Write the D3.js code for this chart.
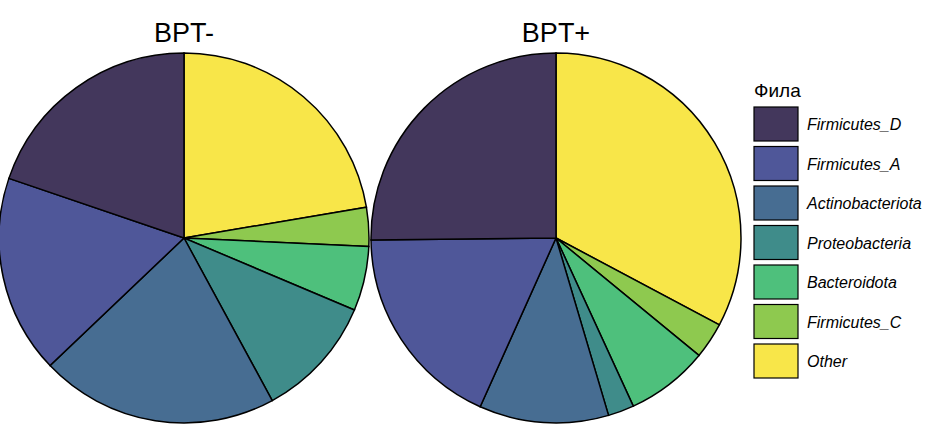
<!DOCTYPE html><html><head><meta charset="utf-8"><script src="https://cdn.jsdelivr.net/npm/d3@7"></script>
<style>body{margin:0;background:#fff}</style></head><body><svg id="c" width="950" height="445"></svg><script>
const categories=["Other","Firmicutes_C","Bacteroidota","Proteobacteria","Actinobacteriota","Firmicutes_A","Firmicutes_D"];
const bptMinus=[80.4,12.2,20.3,38.6,74.9,62.4,71.2];
const bptPlus=[118,11.4,25.9,8.2,40.7,65.2,90.6];
const legendOrder=["Firmicutes_D","Firmicutes_A","Actinobacteriota","Proteobacteria","Bacteroidota","Firmicutes_C","Other"];
const colors=["#f8e649","#8ec94f","#4ec07c","#3f8c8a","#476d92","#4f5799","#43375c"];
const svg=d3.select("#c");
const color=d3.scaleOrdinal(categories,colors);
const pie=d3.pie().sort(null).value(d=>d.v);
const arc=d3.arc().innerRadius(0).outerRadius(185);
[[bptMinus,184,"BPT-"],[bptPlus,556,"BPT+"]].forEach(([vals,cx,t])=>{
 const g=svg.append("g").attr("transform",`translate(${cx},238)`);
 g.selectAll("path").data(pie(vals.map((v,i)=>({k:categories[i],v})))).join("path")
  .attr("d",arc).attr("fill",d=>color(d.data.k)).attr("stroke","#000").attr("stroke-width",1.5);
 svg.append("text").attr("x",cx).attr("y",42).attr("text-anchor","middle").attr("font-family","Liberation Sans, Arial").attr("font-size",27).text(t);
});
svg.append("text").attr("x",754).attr("y",97).attr("font-family","Liberation Sans, Arial").attr("font-size",19).text("Фила");
const lg=svg.append("g");
legendOrder.forEach((k,i)=>{
 const y=107+i*39.5;
 lg.append("rect").attr("x",754).attr("y",y).attr("width",44).attr("height",34).attr("fill",color(k)).attr("stroke","#000").attr("stroke-width",1.2);
 lg.append("text").attr("x",807).attr("y",y+23).attr("font-family","Liberation Sans, Arial").attr("font-style","italic").attr("font-size",16).text(k);
});
</script></body></html>
